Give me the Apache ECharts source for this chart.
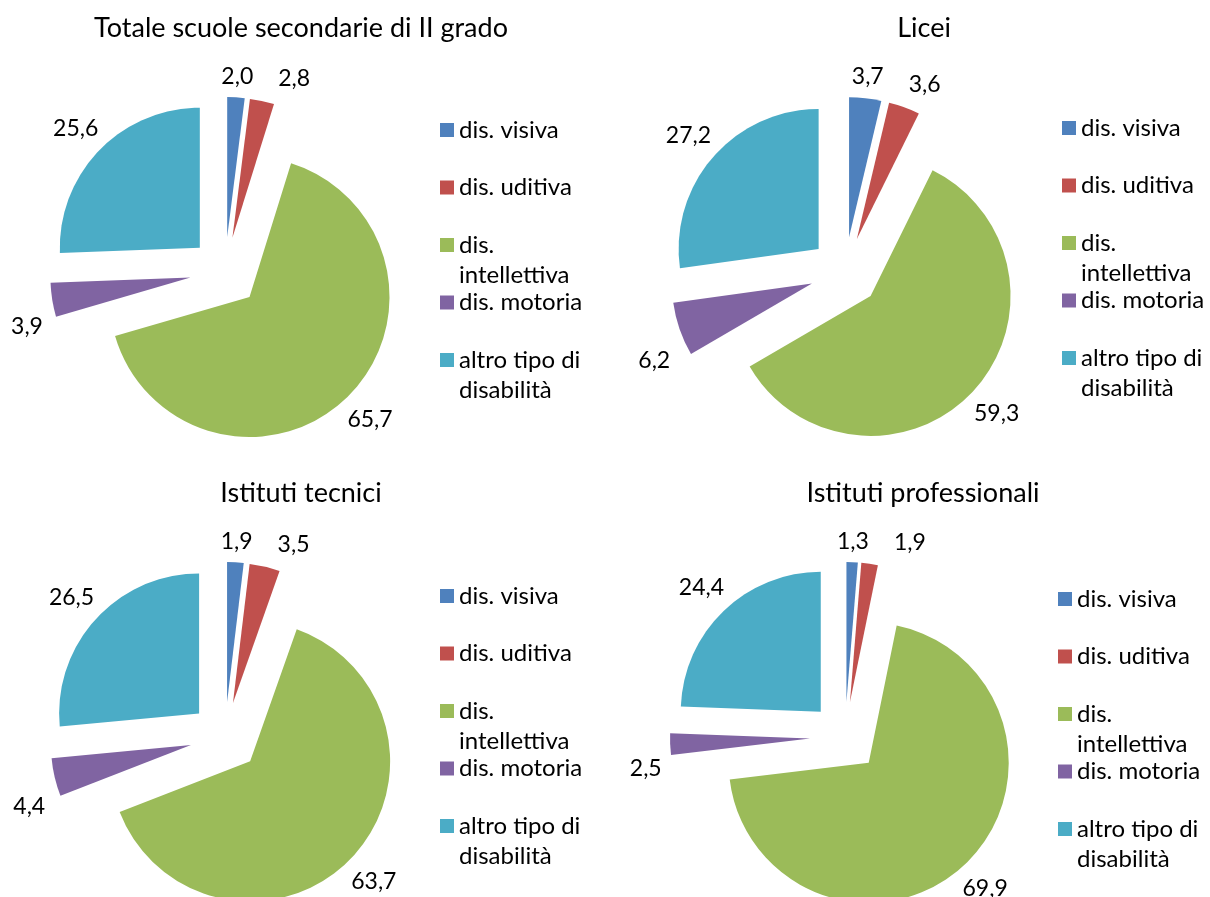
<!DOCTYPE html>
<html>
<head>
<meta charset="utf-8">
<title>Alunni con disabilità per tipo di disabilità</title>
<script src="https://cdn.jsdelivr.net/npm/echarts@6/dist/echarts.min.js"></script>
<style>
  html, body { margin: 0; padding: 0; background: #fff; }
  #chart { width: 1210px; height: 897px; }
</style>
</head>
<body>
<div id="chart"></div>
<script>
const categories = ['dis. visiva', 'dis. uditiva', 'dis. intellettiva', 'dis. motoria', 'altro tipo di disabilità']
// legend text broken over lines like the original
const legendLabels = ['dis. visiva', 'dis. uditiva', 'dis.\nintellettiva', 'dis. motoria', 'altro tipo di\ndisabilità']
const colors = ['#4F81BD', '#C0504D', '#9BBB59', '#8064A2', '#4BACC6']

const titles = ['Totale scuole secondarie di II grado', 'Licei', 'Istituti tecnici', 'Istituti professionali']
const totale = [2.0, 2.8, 65.7, 3.9, 25.6]
const licei = [3.7, 3.6, 59.3, 6.2, 27.2]
const tecnici = [1.9, 3.5, 63.7, 4.4, 26.5]
const professionali = [1.3, 1.9, 69.9, 2.5, 24.4]

const font = 'Lato, "Open Sans", sans-serif'
const labelSize = 23
const lineH = 30
const radius = 140
const explode = 35
const labelGap = 8

const panels = [
    { values: totale, center: [225, 272], titleX: 301, titleY: 15, legendX: 440, legendY: 130 },
    { values: licei, center: [845, 272], titleX: 924, titleY: 15, legendX: 1062, legendY: 128 },
    { values: tecnici, center: [225, 737], titleX: 301, titleY: 480, legendX: 440, legendY: 596 },
    { values: professionali, center: [845, 737], titleX: 923, titleY: 480, legendX: 1058, legendY: 599 }
]

const fmt = v => Number(v).toFixed(1).replace('.', ',')

// pad every legend entry to 3 lines so the marker sits on the first text line
const legendText = name => {
    const t = legendLabels[categories.indexOf(name)]
    return '\n' + t + (t.indexOf('\n') < 0 ? '\n' : '')
}

const measure = document.createElement('canvas').getContext('2d')
measure.font = labelSize + 'px ' + font

// excel-like "best fit": label box just outside its exploded slice,
// dropped below the ray on the lower left, and pushed right when it
// runs into the previous label
const labelSettings = values => {
    const total = values.reduce((a, b) => a + b, 0)
    let cum = 0
    const boxes = values.map(v => {
        const mid = (cum + v / 2) / total * Math.PI * 2
        cum += v
        const ux = Math.sin(mid)
        const uy = -Math.cos(mid)
        const w = measure.measureText(fmt(v)).width
        const len = labelGap + Math.abs(ux) * w / 2 + Math.abs(uy) * labelSize / 2
        const d = explode + radius + len
        return { len: len, x: ux * d, y: uy * d, w: w, push: 0, drop: ux < 0 && uy > 0 }
    })
    boxes.forEach((b, k) => {
        if (k === 0) return
        const prev = boxes[k - 1]
        const minX = prev.x + prev.push + prev.w / 2 + 25 + b.w / 2
        if (Math.abs(prev.y - b.y) < labelSize && b.x > prev.x && b.x < minX) b.push = minX - b.x
    })
    return boxes
}

const labelBoxes = panels.map(p => labelSettings(p.values))

// a dropped label gets two empty lines above it, so the middle-aligned
// text lands one line lower
const labelText = d => (labelBoxes[d.seriesIndex][d.dataIndex].drop ? '\n\n' : '') + fmt(d.value)

const chart = echarts.init(document.getElementById('chart'))

const option = {
    animation: false,
    backgroundColor: '#fff',
    title: panels.map((p, i) => ({
        text: titles[i],
        left: p.titleX,
        top: p.titleY,
        textAlign: 'center',
        padding: 0,
        textStyle: { fontFamily: font, fontSize: 27, fontWeight: 'normal', color: '#000' }
    })),
    legend: panels.map(p => ({
        orient: 'vertical',
        left: p.legendX,
        top: p.legendY - lineH * 1.5,
        padding: 0,
        itemGap: 57.5 - lineH * 3,
        itemWidth: 14,
        itemHeight: 14,
        icon: 'rect',
        selectedMode: false,
        data: categories,
        formatter: legendText,
        textStyle: { fontFamily: font, fontSize: 24, lineHeight: lineH, color: '#000' }
    })),
    series: panels.map((p, i) => {
        const boxes = labelBoxes[i]
        return {
            type: 'pie',
            name: titles[i],
            center: p.center,
            radius: radius,
            startAngle: 90,
            clockwise: true,
            selectedMode: 'multiple',
            selectedOffset: explode,
            avoidLabelOverlap: false,
            emphasis: { disabled: true },
            label: {
                position: 'outside',
                fontFamily: font,
                fontSize: labelSize,
                lineHeight: labelSize,
                color: '#000',
                distanceToLabelLine: 0,
                formatter: labelText
            },
            labelLine: { show: false, length: 24, length2: 0 },
            labelLayout: { align: 'center', hideOverlap: false },
            data: categories.map((c, k) => ({
                name: c,
                value: p.values[k],
                selected: true,
                itemStyle: { color: colors[k], borderWidth: 0 },
                select: { itemStyle: { color: colors[k], borderWidth: 0 } },
                label: { padding: [0, 0, 0, boxes[k].push * 2] },
                labelLine: { length: boxes[k].len }
            }))
        }
    })
}

chart.setOption(option)
</script>
</body>
</html>
